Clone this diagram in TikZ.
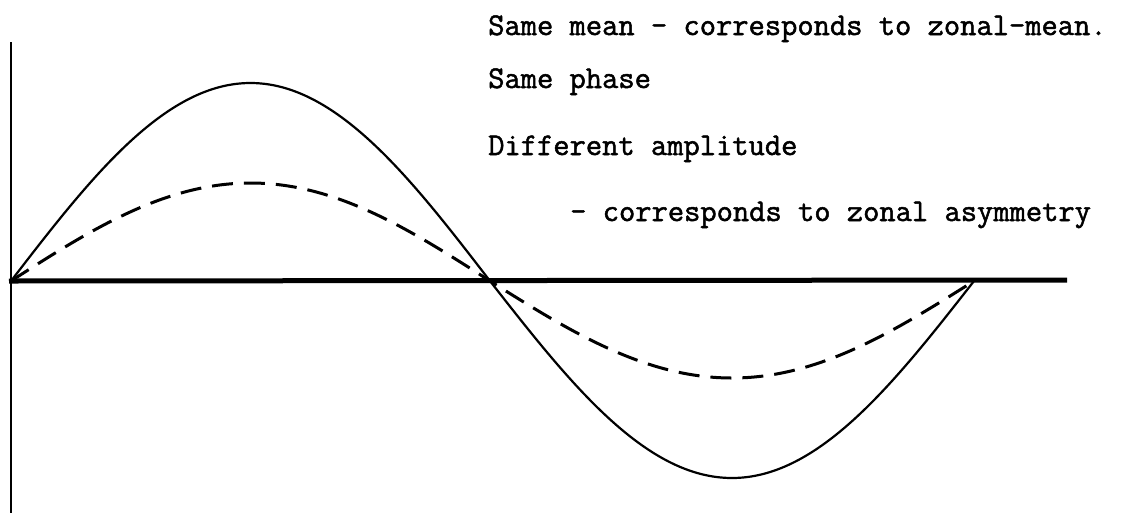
\documentclass[tikz,border=0pt]{standalone}
\usepackage{fontspec}
\newfontfamily\twfont{Latin Modern Mono}[FakeBold=1.6]
\begin{document}
\begin{tikzpicture}[x=1pt,y=-1pt,
  lbl/.style={anchor=base west,inner sep=0pt,font=\fontsize{31.6}{38}\selectfont\twfont\bfseries},
  axisline/.style={line width=2.8pt},
  baseaxis/.style={line width=5pt},
  fullwave/.style={line width=2.2pt,line join=round},
  halfwave/.style={line width=3pt,dash pattern=on 21pt off 11pt}]
\useasboundingbox (0,0) rectangle (1123,515);
\coordinate (vtop) at (11,42);
\coordinate (vbot) at (11,513);
\coordinate (hl) at (9,281);
\coordinate (hr) at (1067,280);
\draw[axisline] (vtop) -- (vbot);
\draw[baseaxis] (hl) -- (hr);
% solid wave
\draw[fullwave] plot[domain=11:490,samples=90,smooth] (\x,{281-198*sin((\x-11)*0.375783)});
\draw[fullwave] plot[domain=490:974,samples=90,smooth] (\x,{281+197*sin((\x-490)*0.371901)});
% dashed wave
\draw[halfwave] plot[domain=11:974,samples=180,smooth] (\x,{281-(\x<490?98*sin((\x-11)*0.375783):-97*sin((\x-490)*0.371901))});
\node[lbl] (t1) at (488,35) {Same mean - corresponds to zonal-mean.};
\node[lbl] (t2) at (488,88) {Same phase};
\node[lbl] (t3) at (488,155) {Different amplitude};
\node[lbl] (t4) at (570,221) {- corresponds to zonal asymmetry};
\end{tikzpicture}
\end{document}
